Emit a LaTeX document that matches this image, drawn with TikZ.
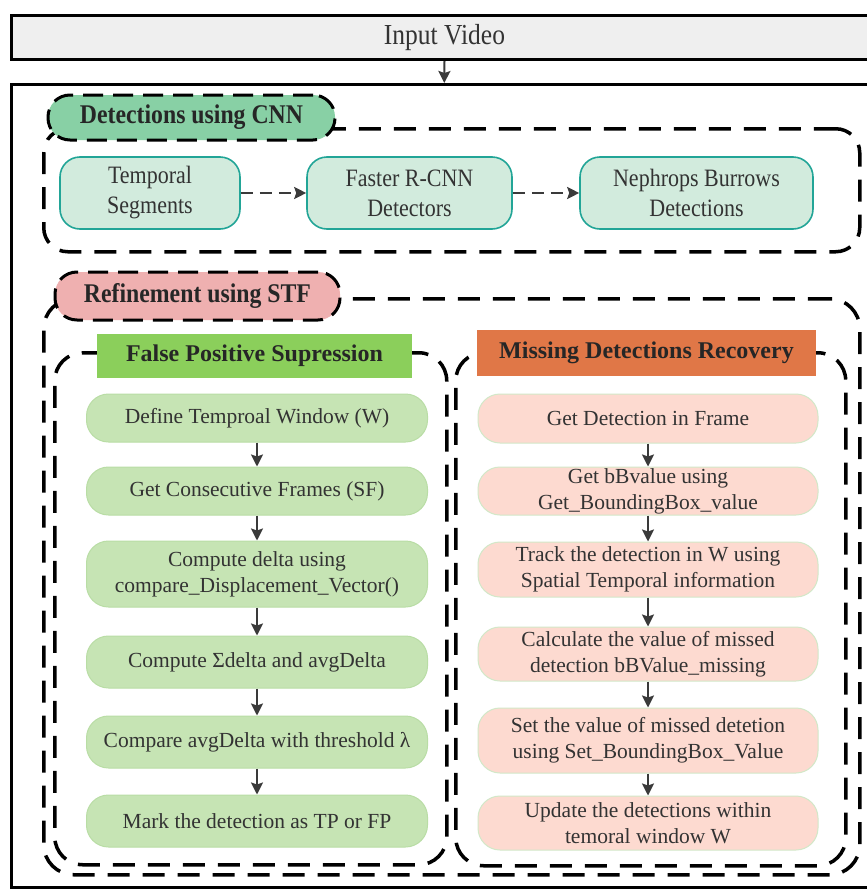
\documentclass[tikz,border=0pt]{standalone}
\usepackage{fontspec}
\setmainfont{Liberation Serif}
\newfontfamily\condfont[FakeStretch=0.88]{Liberation Serif}
\usetikzlibrary{arrows.meta}
\definecolor{inbg}{HTML}{EFEFEF}
\definecolor{cnnlbl}{HTML}{88D0A5}
\definecolor{cnnfill}{HTML}{D2EBDD}
\definecolor{cnnline}{HTML}{22A597}
\definecolor{refl}{HTML}{EFB0B0}
\definecolor{fphdr}{HTML}{8BCF5B}
\definecolor{mdrhdr}{HTML}{E07747}
\definecolor{fpfill}{HTML}{C6E4B4}
\definecolor{fpline}{HTML}{B9DDA5}
\definecolor{mdrfill}{HTML}{FDDAD0}
\definecolor{mdrline}{HTML}{D2E8C8}
\definecolor{txt}{HTML}{333333}
\definecolor{arrc}{HTML}{3A3A3A}
\tikzset{
  dbox/.style={draw=black, line width=3.5pt, dash pattern=on 22pt off 13pt, rounded corners=24pt, inner sep=0pt},
  lblbox/.style={draw=black, line width=3pt, dash pattern=on 20pt off 10pt, rounded corners=22pt, inner sep=0pt, font=\condfont\fontsize{27}{30}\selectfont\bfseries, text=black!85},
  cnnstep/.style={draw=cnnline, line width=1.6pt, fill=cnnfill, rounded corners=20pt, inner sep=0pt, align=center, text=txt, font=\condfont\fontsize{25}{30}\selectfont},
  hdr/.style={inner sep=0pt, font=\fontsize{24}{28}\selectfont\bfseries, text=black!85},
  fpstep/.style={draw=fpline, line width=1pt, fill=fpfill, rounded corners=22pt, inner sep=0pt, align=center, text=txt, minimum width=341pt, font=\fontsize{21.5}{26}\selectfont},
  mdrstep/.style={draw=mdrline, line width=1pt, fill=mdrfill, rounded corners=22pt, inner sep=0pt, align=center, text=txt, minimum width=340pt, font=\fontsize{21.5}{26}\selectfont},
  arr/.style={draw=arrc, line width=2pt, -{Stealth[length=12pt,width=12pt,inset=2pt]}},
  darr/.style={draw=arrc, line width=2.2pt, dash pattern=on 12pt off 7pt, -{Stealth[length=12pt,width=12pt,inset=2pt]}}
}
\begin{document}
\begin{tikzpicture}[x=1pt,y=-1pt]
\useasboundingbox (0,0) rectangle (867,889);
\clip (0,0) rectangle (867,889);
\fill[white] (0,0) rectangle (867,889);
% input and frame
\node[draw=black, line width=3pt, fill=inbg, minimum width=866pt, minimum height=44pt, inner sep=0pt, anchor=north west, font=\condfont\fontsize{29}{32}\selectfont, text=black!80] (input) at (10,14) {Input Video};
\node[draw=black, line width=2.5pt, minimum width=866pt, minimum height=803pt, inner sep=0pt, anchor=north west] (frame) at (10,83) {};
\draw[arr] (input.south) -- (frame.north);
% CNN section
\node[dbox, minimum width=816pt, minimum height=123pt, anchor=north west] (cnn) at (42,127) {};
\node[lblbox, fill=cnnlbl, minimum width=287pt, minimum height=45pt] (cnnl) at (191.5,117.5) {Detections using CNN};
\node[cnnstep, minimum width=180pt, minimum height=72pt] (c1) at (150,193) {Temporal\\Segments};
\node[cnnstep, minimum width=205pt, minimum height=72pt] (c2) at (409.5,193) {Faster R-CNN\\Detectors};
\node[cnnstep, minimum width=233pt, minimum height=72pt] (c3) at (696.5,193) {Nephrops Burrows\\Detections};
\draw[darr] (c1) -- (c2);
\draw[darr] (c2) -- (c3);
% STF section
\node[dbox, minimum width=816pt, minimum height=576pt, anchor=north west, rounded corners=30pt] (stf) at (42,297) {};
\node[dbox, minimum width=392pt, minimum height=512pt, anchor=north west, rounded corners=28pt] (fp) at (53,351) {};
\node[dbox, minimum width=390pt, minimum height=513pt, anchor=north west, rounded corners=28pt] (mdr) at (454,351) {};
\node[lblbox, fill=refl, minimum width=285pt, minimum height=48pt] (refl) at (197.5,296) {Refinement using STF};
\node[hdr, fill=fphdr, minimum width=315pt, minimum height=44pt] (fph) at (254.5,356) {False Positive Supression};
\node[hdr, fill=mdrhdr, minimum width=339pt, minimum height=46pt] (mdh) at (646.5,353) {Missing Detections Recovery};
% FP steps
\node[fpstep, minimum height=48pt] (f1) at (257,418) {Define Temproal Window (W)};
\node[fpstep, minimum height=48pt] (f2) at (257,491) {Get Consecutive Frames (SF)};
\node[fpstep, minimum height=66pt] (f3) at (257,574) {Compute delta using\\compare\_Displacement\_Vector()};
\node[fpstep, minimum height=52pt] (f4) at (257,662) {Compute Σdelta and avgDelta};
\node[fpstep, minimum height=52pt] (f5) at (257,742) {Compare avgDelta with threshold λ};
\node[fpstep, minimum height=52pt] (f6) at (257,821) {Mark the detection as TP or FP};
\draw[arr] (f1) -- (f2);
\draw[arr] (f2) -- (f3);
\draw[arr] (f3) -- (f4);
\draw[arr] (f4) -- (f5);
\draw[arr] (f5) -- (f6);
% MDR steps
\node[mdrstep, minimum height=49pt] (m1) at (648,418.5) {Get Detection in Frame};
\node[mdrstep, minimum height=48pt] (m2) at (648,491) {Get bBvalue using\\Get\_BoundingBox\_value};
\node[mdrstep, minimum height=55pt] (m3) at (648,569.5) {Track the detection in W using\\Spatial Temporal information};
\node[mdrstep, minimum height=54pt] (m4) at (648,654) {Calculate the value of missed\\detection bBValue\_missing};
\node[mdrstep, minimum height=65pt] (m5) at (648,740.5) {Set the value of missed detetion\\using Set\_BoundingBox\_Value};
\node[mdrstep, minimum height=54pt] (m6) at (648,823) {Update the detections within\\temoral window W};
\draw[arr] (m1) -- (m2);
\draw[arr] (m2) -- (m3);
\draw[arr] (m3) -- (m4);
\draw[arr] (m4) -- (m5);
\draw[arr] (m5) -- (m6);
\end{tikzpicture}
\end{document}
